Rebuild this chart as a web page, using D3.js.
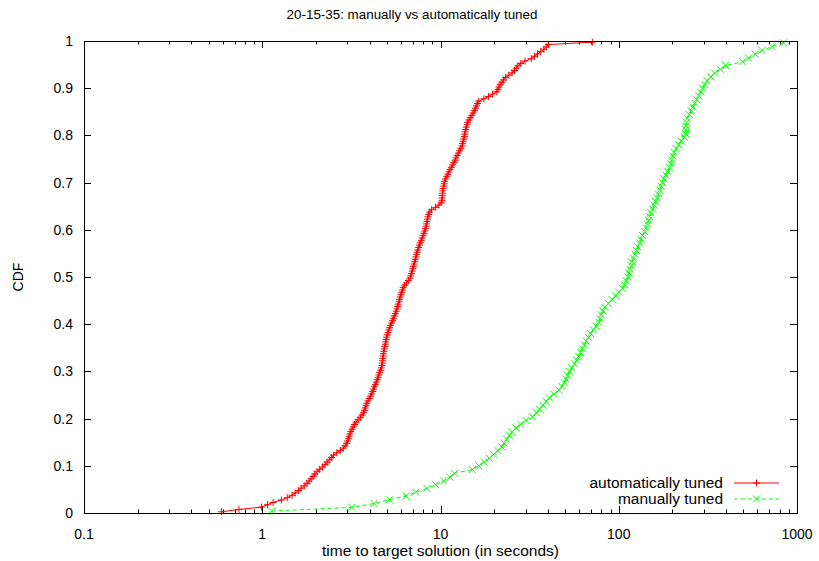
<!DOCTYPE html>
<html>
<head>
<meta charset="utf-8">
<title>20-15-35: manually vs automatically tuned</title>
<script src="https://cdn.jsdelivr.net/npm/d3@7"></script>
<style>
  body { margin: 0; background: #fff; }
  svg text { font-family: "Liberation Sans", Arial, sans-serif; fill: #000; }
</style>
</head>
<body>
<div id="chart"></div>
<script>
// run times (seconds), sorted
const autoTimes = [
  0.59, 0.74, 0.99, 1.07, 1.15, 1.28, 1.38, 1.47, 1.53, 1.60,
  1.65, 1.72, 1.78, 1.83, 1.88, 1.93, 1.97, 2.03, 2.10, 2.18,
  2.25, 2.31, 2.38, 2.45, 2.51, 2.62, 2.74, 2.85, 2.92, 2.98,
  3.01, 3.04, 3.07, 3.10, 3.14, 3.19, 3.24, 3.29, 3.36, 3.45,
  3.55, 3.63, 3.70, 3.74, 3.78, 3.82, 3.86, 3.92, 3.98, 4.05,
  4.11, 4.17, 4.21, 4.26, 4.31, 4.37, 4.42, 4.47, 4.51, 4.56,
  4.61, 4.66, 4.69, 4.71, 4.73, 4.75, 4.77, 4.78, 4.81, 4.84,
  4.87, 4.90, 4.93, 4.96, 4.99, 5.03, 5.08, 5.13, 5.19, 5.25,
  5.31, 5.38, 5.44, 5.51, 5.58, 5.65, 5.71, 5.75, 5.79, 5.85,
  5.89, 5.94, 6.00, 6.06, 6.12, 6.18, 6.30, 6.45, 6.60, 6.75,
  6.82, 6.88, 6.94, 6.99, 7.05, 7.11, 7.17, 7.23, 7.28, 7.33,
  7.39, 7.46, 7.54, 7.62, 7.70, 7.80, 7.89, 7.98, 8.07, 8.16,
  8.23, 8.29, 8.35, 8.40, 8.45, 8.51, 8.58, 8.69, 8.90, 9.40,
  9.80, 10.1, 10.2, 10.22, 10.25, 10.27, 10.3, 10.35, 10.42, 10.5,
  10.55, 10.65, 10.85, 11.0, 11.15, 11.3, 11.5, 11.7, 11.9, 12.1,
  12.2, 12.4, 12.6, 12.8, 13.0, 13.2, 13.3, 13.4, 13.5, 13.6,
  13.7, 13.75, 13.85, 13.95, 14.1, 14.2, 14.45, 14.7, 15.0, 15.25,
  15.5, 15.7, 15.9, 16.1, 16.4, 17.5, 18.6, 19.6, 20.7, 21.0,
  21.3, 21.6, 22.1, 22.6, 23.2, 24.2, 25.2, 26.0, 26.6, 27.2,
  28.2, 29.8, 32.3, 33.7, 35.0, 36.5, 38.0, 39.2, 40.3, 71.1
]

const manualTimes = [
  1.13, 3.18, 4.24, 5.17, 6.41, 7.26, 8.4, 9.4, 10.4, 11.3,
  12.0, 15.1, 16.4, 17.6, 18.8, 19.9, 21.0, 22.1, 22.8, 23.5,
  24.3, 25.2, 26.5, 28.2, 30.2, 32.8, 34.6, 35.9, 37.6, 39.2,
  40.8, 43.2, 46.3, 48.0, 49.5, 50.5, 51.6, 53.0, 54.6, 56.5,
  58.1, 59.6, 61.1, 62.6, 64.2, 65.8, 67.7, 69.6, 72.0, 74.8,
  77.2, 78.5, 79.8, 81.4, 83.6, 87.4, 91.8, 96.0, 100, 105,
  108, 110, 113, 114.5, 116, 117.5, 119, 121, 123.5, 126,
  128, 131, 133.5, 136, 140, 143, 145, 147, 149, 151,
  155, 158, 161, 164, 167, 170, 173, 176, 179, 184,
  188, 193, 196, 198, 201, 204, 210, 217, 224, 233,
  237, 238, 239, 240, 242, 249, 255, 261, 267, 274,
  281, 288, 295, 304, 313, 329, 345, 372, 398, 495,
  535, 583, 636, 725, 840
]

const seriesNames = ["automatically tuned", "manually tuned"]
const xTicks = [0.1, 1, 10, 100, 1000]
const xTickLabels = ["0.1", "1", "10", "100", "1000"]
const yTicks = [0, 0.1, 0.2, 0.3, 0.4, 0.5, 0.6, 0.7, 0.8, 0.9, 1]
const yTickLabels = ["0", "0.1", "0.2", "0.3", "0.4", "0.5", "0.6", "0.7", "0.8", "0.9", "1"]

const w = 819, h = 561
const margin = { top: 41, right: 22, bottom: 48, left: 84 }

const svg = d3.select("#chart").append("svg").attr("width", w).attr("height", h)

const xScale = d3.scaleLog().domain([0.1, 1000]).range([margin.left, w - margin.right])
const yScale = d3.scaleLinear().domain([0, 1]).range([h - margin.bottom, margin.top])

// empirical cdf, p_i = (i - 1/2) / n like the usual time-to-target plots
function ttt(times) {
    return times.map((t, i) => ({ t: t, p: (i + 0.5) / times.length }))
}

const series = [
    { name: seriesNames[0], data: ttt(autoTimes), color: "#ff0000", dash: null, mark: "M-3.5,0H3.5M0,-3.5V3.5" },
    { name: seriesNames[1], data: ttt(manualTimes), color: "#00ff00", dash: "4,3", mark: "M-3.5,-3.5L3.5,3.5M-3.5,3.5L3.5,-3.5" }
]

// minor ticks of the log axis
let minor = []
for (let d = 0.1; d < 1000; d *= 10) {
    for (let k = 2; k <= 9; k++) minor.push(+(d * k).toPrecision(3))
}

const x0 = margin.left, x1 = w - margin.right
const y0 = h - margin.bottom, y1 = margin.top

const ticks = svg.append("g").attr("stroke", "#000").attr("stroke-width", 1)
xTicks.forEach(v => {
    const x = Math.round(xScale(v)) + 0.5
    ticks.append("line").attr("x1", x).attr("x2", x).attr("y1", y0).attr("y2", y0 - 7)
    ticks.append("line").attr("x1", x).attr("x2", x).attr("y1", y1).attr("y2", y1 + 7)
})
minor.forEach(v => {
    const x = Math.round(xScale(v)) + 0.5
    ticks.append("line").attr("x1", x).attr("x2", x).attr("y1", y0).attr("y2", y0 - 3.5)
    ticks.append("line").attr("x1", x).attr("x2", x).attr("y1", y1).attr("y2", y1 + 3.5)
})
yTicks.forEach(v => {
    const y = Math.round(yScale(v)) + 0.5
    ticks.append("line").attr("x1", x0).attr("x2", x0 + 7).attr("y1", y).attr("y2", y)
    ticks.append("line").attr("x1", x1).attr("x2", x1 - 7).attr("y1", y).attr("y2", y)
})

svg.selectAll(".xlab").data(xTicks).enter().append("text")
    .attr("x", d => xScale(d)).attr("y", y0 + 26)
    .attr("text-anchor", "middle").style("font-size", "14px")
    .text((d, i) => xTickLabels[i])

svg.selectAll(".ylab").data(yTicks).enter().append("text")
    .attr("x", x0 - 11).attr("y", d => yScale(d) + 5)
    .attr("text-anchor", "end").style("font-size", "14px")
    .text((d, i) => yTickLabels[i])

const line = d3.line().x(d => xScale(d.t)).y(d => yScale(d.p))

series.forEach((s, k) => {
    const g = svg.append("g")
    g.append("path").datum(s.data).attr("d", line)
        .attr("fill", "none").attr("stroke", s.color).attr("stroke-width", 1)
        .attr("stroke-dasharray", s.dash)
    g.selectAll("path.mk").data(s.data).enter().append("path").attr("class", "mk")
        .attr("transform", d => "translate(" + xScale(d.t) + "," + yScale(d.p) + ")")
        .attr("d", s.mark).attr("fill", "none").attr("stroke", s.color).attr("stroke-width", 1)

    // legend entry
    const ly = 483 + k * 16
    g.append("text").attr("x", 723).attr("y", ly + 5).attr("text-anchor", "end")
        .style("font-size", "15.5px").text(s.name)
    g.append("line").attr("x1", 734).attr("x2", 779).attr("y1", ly).attr("y2", ly)
        .attr("stroke", s.color).attr("stroke-dasharray", s.dash)
    g.append("path").attr("transform", "translate(756.5," + ly + ")").attr("d", s.mark)
        .attr("fill", "none").attr("stroke", s.color)
})

// frame
svg.append("rect").attr("x", x0 + 0.5).attr("y", y1 + 0.5)
    .attr("width", x1 - x0).attr("height", y0 - y1)
    .attr("fill", "none").attr("stroke", "#000").attr("stroke-width", 1)

svg.append("text").attr("x", 412).attr("y", 19).attr("text-anchor", "middle")
    .style("font-size", "13.4px").text("20-15-35: manually vs automatically tuned")

svg.append("text").attr("x", (x0 + x1) / 2).attr("y", 556).attr("text-anchor", "middle")
    .style("font-size", "15.5px").text("time to target solution (in seconds)")

svg.append("text").attr("transform", "translate(23,277) rotate(-90)").attr("text-anchor", "middle")
    .style("font-size", "14px").text("CDF")
</script>
</body>
</html>
